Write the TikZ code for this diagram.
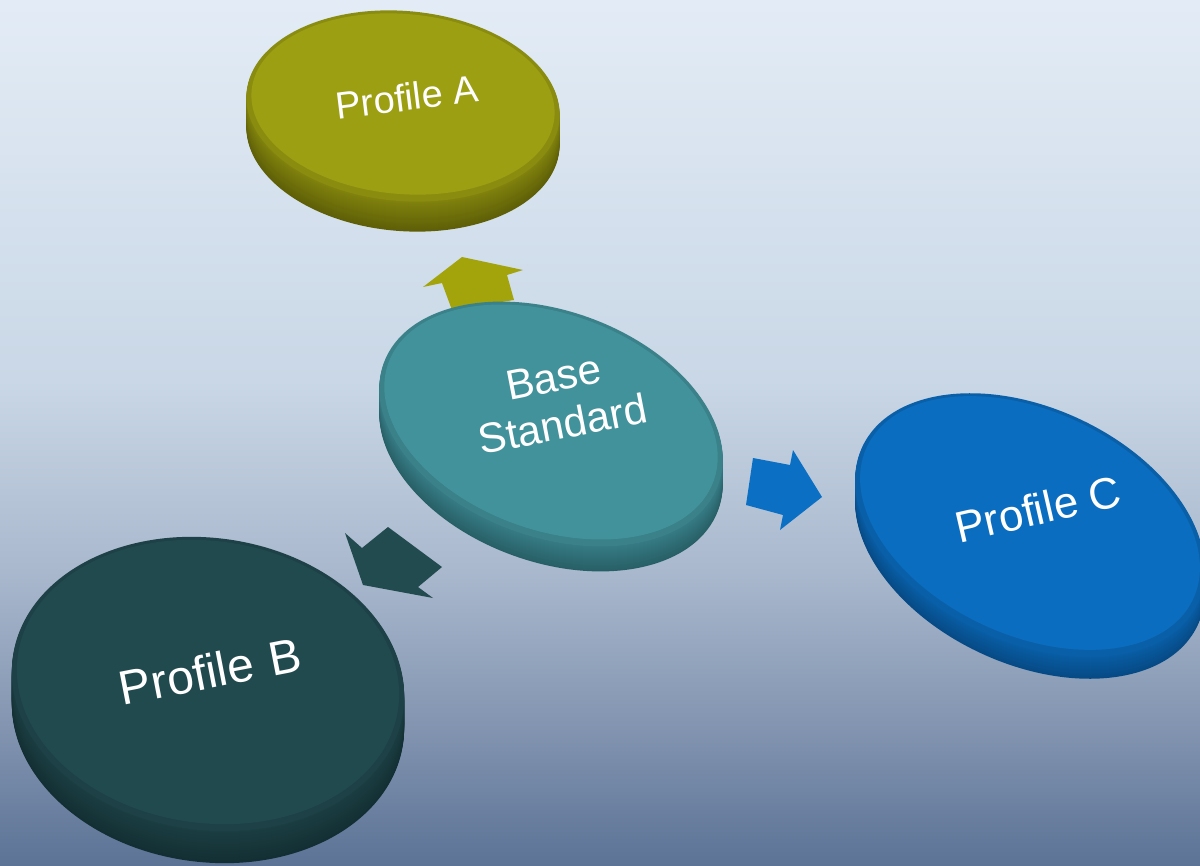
\documentclass[tikz,border=0pt]{standalone}
\usepackage{fontspec}
\setmainfont{Liberation Sans}
\definecolor{bgA}{HTML}{E3ECF6}
\definecolor{bgM}{HTML}{C9D7E6}
\definecolor{bgB}{HTML}{A9B8CD}
\definecolor{bgC}{HTML}{8294B0}
\definecolor{bgD}{HTML}{5C7396}
\definecolor{aTop}{HTML}{9D9F12}
\definecolor{aSide}{HTML}{5E5F07}
\definecolor{sTop}{HTML}{42929C}
\definecolor{sSide}{HTML}{285F66}
\definecolor{bTop}{HTML}{214A4F}
\definecolor{bSide}{HTML}{132F33}
\definecolor{cTop}{HTML}{0B6DBF}
\definecolor{cSide}{HTML}{064A85}
\definecolor{arrA}{HTML}{A3A40C}
\definecolor{arrC}{HTML}{0B6FC4}
\definecolor{arrB}{HTML}{214B4F}
\pgfdeclareverticalshading{bgshade}{100bp}{color(0bp)=(bgD); color(25bp)=(bgD); color(33bp)=(bgC); color(42bp)=(bgB); color(53bp)=(bgM); color(75bp)=(bgA); color(100bp)=(bgA)}
% disk: cx cy rx ry rot thick topcolor sidecolor
\newcommand\mydisk[8]{%
  \foreach \k in {#6,...,1}{%
    \pgfmathtruncatemacro\mix{45+55*\k/#6}%
    \fill[#8!\mix!#7, shift={(#1,#2+\k)}, rotate=-#5] (0,0) ellipse [x radius=#3, y radius=#4];
  }%
  \fill[#7!88!black, shift={(#1,#2)}, rotate=-#5] (0,0) ellipse [x radius=#3, y radius=#4];
  \fill[#7, shift={(#1,#2-2)}, rotate=-#5] (0,0) ellipse [x radius=#3-5, y radius=#4-5];
}
\tikzset{
  lbl/.style={text=white, align=center, inner sep=0pt},
  arrowshape/.style={draw=none},
}
\begin{document}
\begin{tikzpicture}[x=0.5pt, y=-0.5pt]
\useasboundingbox (0,0) rectangle (1200,866);
\shade[shading=bgshade] (0,0) rectangle (1200,866);

% Profile A disk
\mydisk{403}{106}{157}{95}{5}{30}{aTop}{aSide}
\node[lbl, font=\fontsize{19}{22}\selectfont, rotate=7] (pa) at (407,97) {Profile A};

% arrow to Profile A
\fill[arrowshape, arrA] (452,310) -- (442,283) -- (423,287) -- (462,257) -- (523,270) -- (507,275) -- (514,300) -- cycle;

% Base Standard disk
\mydisk{551}{424}{178}{113}{20}{25}{sTop}{sSide}
\node[lbl, font=\fontsize{21}{24}\selectfont, rotate=11] (bs) at (558,401) {Base\\Standard};

% arrow to Profile C
\fill[arrowshape, arrC] (753,458) -- (790,465) -- (793,450) -- (822,497) -- (780,530) -- (783,515) -- (746,505) -- cycle;

% arrow to Profile B
\fill[arrowshape, arrB] (363,585) -- (345,533) -- (362,548) -- (388,527) -- (442,567) -- (418,587) -- (433,598) -- cycle;

% Profile B disk
\mydisk{208}{684}{197}{146}{8}{32}{bTop}{bSide}
\node[lbl, font=\fontsize{24}{28}\selectfont, rotate=11] (pb) at (210,671) {Profile\,\,B};

% Profile C disk
\mydisk{1030}{525}{185}{117}{25}{22}{cTop}{cSide}
\node[lbl, font=\fontsize{22}{26}\selectfont, rotate=13] (pc) at (1038,509) {Profile C};
\end{tikzpicture}
\end{document}
